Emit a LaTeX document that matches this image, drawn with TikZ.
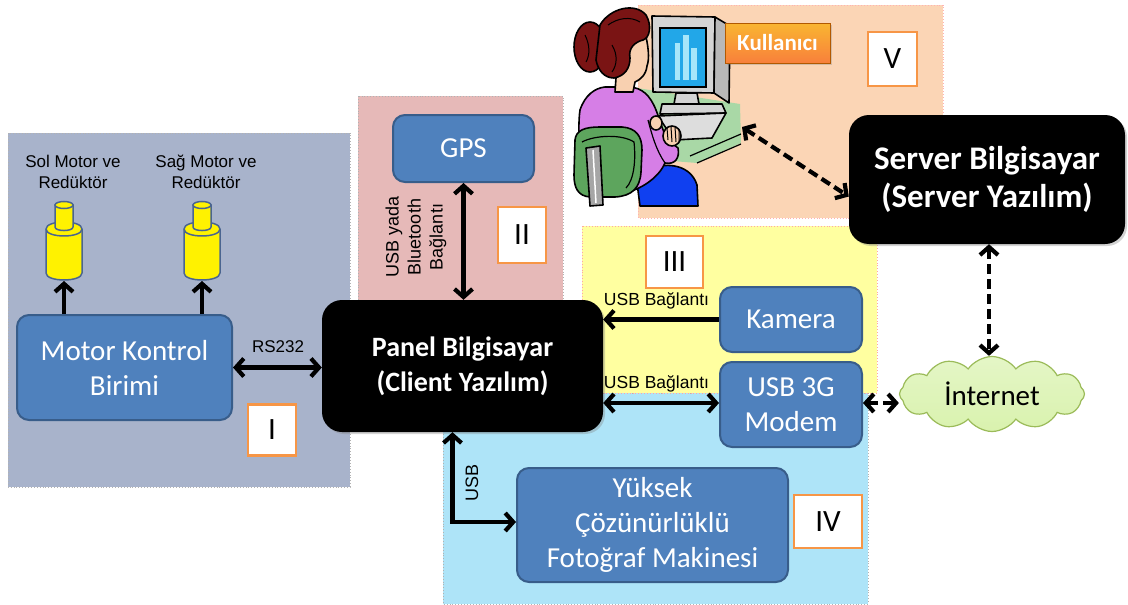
\documentclass[tikz,border=0pt]{standalone}
\usepackage{fontspec}
\setmainfont{Carlito}
\newfontfamily\arialf{Liberation Sans}
\usetikzlibrary{arrows.meta,shapes.symbols,shadows}

\definecolor{boxblue}{HTML}{4F81BD}
\definecolor{boxedge}{HTML}{385D8A}
\definecolor{regI}{HTML}{A8B3CB}
\definecolor{regII}{HTML}{E6B9B8}
\definecolor{regIII}{HTML}{FFFFA0}
\definecolor{regIV}{HTML}{AEE4F8}
\definecolor{regV}{HTML}{FBD5B5}
\definecolor{tagorange}{HTML}{F79646}
\definecolor{cloudfill}{HTML}{D9F2AE}
\definecolor{cloudedge}{HTML}{9BBB59}
\definecolor{hair}{HTML}{7A1414}
\definecolor{skin}{HTML}{F8D0B0}
\definecolor{shirt}{HTML}{D67EE6}
\definecolor{chair}{HTML}{5DA55D}
\definecolor{rail}{HTML}{A6A6A6}
\definecolor{seat}{HTML}{1040F0}
\definecolor{mongray}{HTML}{D4D4D4}
\definecolor{monside}{HTML}{B8B8B8}
\definecolor{screen}{HTML}{22A7E8}
\definecolor{bars}{HTML}{A6E6FA}
\definecolor{desk}{HTML}{A9D8A6}
\definecolor{motoredge}{HTML}{4A6590}

\tikzset{
  >={Straight Barb[length=8pt,width=18pt]},
  region/.style={fill=#1, draw=gray!60, dotted, line width=0.9pt},
  bluebox/.style={draw=boxedge, line width=2pt, fill=boxblue, rounded corners=12pt,
    text=white, align=center, font=\fontsize{29}{35}\selectfont, inner sep=0pt},
  blackbox/.style={fill=black, rounded corners=20pt, text=white, align=center,
    font=\fontsize{28}{35}\selectfont\bfseries, inner sep=0pt,
    drop shadow={shadow xshift=2pt, shadow yshift=-2pt, opacity=0.35}},
  tag/.style={draw=tagorange, line width=2.5pt, fill=white,
    font=\fontsize{31}{31}\selectfont, inner sep=0pt},
  small/.style={font=\arialf\fontsize{17}{21}\selectfont, inner sep=0pt, align=center},
  wire/.style={line width=4.2pt},
  dashwire/.style={line width=4.2pt, dash pattern=on 10pt off 5pt},
  outline/.style={draw=black, line width=1.6pt, line join=round},
  motor/.pic={
    \path[draw=motoredge, line width=1.5pt, fill=yellow]
      (-18,29) -- (-18,73) .. controls (-18,82.3) and (18,82.3) .. (18,73)
      -- (18,29) .. controls (18,19.7) and (-18,19.7) .. (-18,29) -- cycle;
    \draw[motoredge, line width=1.5pt] (-18,29) .. controls (-18,38.3) and (18,38.3) .. (18,29);
    \path[draw=motoredge, line width=1.5pt, fill=yellow]
      (-9,5) -- (-9,27) .. controls (-9,31.7) and (9,31.7) .. (9,27) -- (9,5) -- cycle;
    \draw[motoredge, line width=1.5pt, fill=yellow] (0,5) ellipse [x radius=9, y radius=3.5];
    \coordinate (-base) at (0,81);
  }
}

\begin{document}
\begin{tikzpicture}[x=1pt, y=-1pt]
\useasboundingbox (0,0) rectangle (1128,605);

% shaded areas of the subsystems
\path[region=regI] (8,133) rectangle (350,487);
\path[region=regII] (358,96) rectangle (563,305);
\path[region=regIV] (443,393) rectangle (868,604);
\path[region=regIII, draw=red!35] (582,226) rectangle (877,393);
\path[region=regV, draw=red!30] (638,5) rectangle (943,218);

% user at the workstation
\fill[desk] (637,88) -- (740,104) -- (741,143) -- (697,163) -- (660,160) -- (640,140) -- cycle;
\draw[line width=1.2pt] (690,156) -- (741,134);
\draw[line width=1.2pt] (697,163) -- (741,144);
\path[outline, fill=mongray] (652,16) -- (715,17) -- (714,93) -- (653,92) -- cycle;
\path[outline, fill=monside] (715,17) -- (730,26) -- (729,103) -- (714,93) -- cycle;
\path[draw=black, line width=1.2pt, fill=screen] (660,28) rectangle (706,87);
\fill[bars] (675,43) rectangle (680,80);
\fill[bars] (683,35) rectangle (689,80);
\fill[bars] (691,48) rectangle (697,80);
\path[outline, fill=mongray] (676,93) -- (697,93) -- (699,104) -- (674,104) -- cycle;
\path[outline, fill=mongray] (662,104) -- (722,104) -- (726,113) -- (660,114) -- cycle;
\path[outline, fill=mongray!80] (658,116) -- (726,113) -- (712,138) -- (674,140) -- cycle;
\path[outline, fill=seat] (636,175) .. controls (660,160) and (690,162) .. (697,185)
  -- (698,206) -- (640,206) -- cycle;
\path[outline, fill=shirt] (580,110) .. controls (585,95) and (595,88) .. (605,87)
  -- (630,87) .. controls (642,88) and (650,95) .. (656,110)
  .. controls (660,120) and (662,130) .. (668,140) -- (678,148)
  .. controls (680,158) and (675,165) .. (665,163)
  .. controls (660,175) and (645,188) .. (625,193) -- (590,195)
  .. controls (580,180) and (577,130) .. (580,110) -- cycle;
\draw[line width=1.2pt] (648,120) .. controls (652,135) and (656,150) .. (665,163);
\path[outline, fill=skin] (656,123) ellipse [x radius=6, y radius=7];
\path[outline, fill=skin] (672,136) ellipse [x radius=9, y radius=10];
\draw[line width=1pt] (667,128) -- (668,140) (671,127) -- (672,142) (675,127) -- (676,142) (679,129) -- (679,141);
\path[outline, fill=skin] (618,40) -- (645,32) .. controls (648,45) and (650,58) .. (647,66)
  .. controls (646,75) and (640,80) .. (635,82) -- (633,92) -- (615,92) -- (616,78) -- cycle;
\path[outline, fill=hair] (590,47) ellipse [x radius=16, y radius=25];
\path[outline, fill=hair] (600,25) .. controls (610,8) and (635,2) .. (646,15)
  .. controls (652,25) and (650,38) .. (643,40) .. controls (635,42) and (628,48) .. (630,58)
  .. controls (630,68) and (625,76) .. (614,78) .. controls (604,78) and (598,70) .. (596,60) -- cycle;
\draw[line width=1pt] (608,25) .. controls (618,18) and (630,16) .. (640,22)
  (585,35) .. controls (590,45) and (590,55) .. (586,62)
  (612,45) .. controls (618,55) and (617,65) .. (612,72);
\path[outline, fill=chair] (575,140) .. controls (576,130) and (585,127) .. (600,127) -- (622,127)
  .. controls (636,128) and (642,136) .. (642,150) -- (641,172)
  .. controls (640,188) and (632,196) .. (615,197) -- (590,197)
  .. controls (578,196) and (574,188) .. (574,175) -- cycle;
\draw[line width=1.2pt] (582,142) .. controls (595,135) and (622,134) .. (634,142)
  .. controls (636,160) and (634,180) .. (626,188);
\path[outline, fill=rail] (586,148) -- (600,146) -- (603,205) -- (590,206) -- cycle;
\draw[white, line width=1.5pt] (593,150) -- (596,203);

% motors and their controller
\pic (ml) at (64,200) {motor};
\pic (mr) at (202,200) {motor};
\node[small] (lsol) at (73,172) {Sol Motor ve\\Redüktör};
\node[small] (lsag) at (206,172) {Sağ Motor ve\\Redüktör};
\node[bluebox, minimum width=215pt, minimum height=105pt] (mkb) at (124.5,367.5) {Motor Kontrol\\Birimi};

% main computers and devices
\node[bluebox, minimum width=141pt, minimum height=67pt] (gps) at (463.5,148.5) {GPS};
\node[blackbox, minimum width=281pt, minimum height=132pt] (panel) at (462.5,366) {Panel Bilgisayar\\(Client Yazılım)};
\node[blackbox, font=\fontsize{33}{38}\selectfont\bfseries, minimum width=276pt, minimum height=129pt] (server) at (987,179.5) {Server Bilgisayar\\(Server Yazılım)};
\node[bluebox, minimum width=142pt, minimum height=65pt] (kamera) at (791,319.5) {Kamera};
\node[bluebox, minimum width=142pt, minimum height=85pt] (modem) at (791,404.5) {USB 3G\\Modem};
\node[bluebox, minimum width=271pt, minimum height=114pt] (foto) at (652.5,525) {Yüksek\\Çözünürlüklü\\Fotoğraf Makinesi};
\node[cloud, cloud puffs=12, cloud puff arc=110, cloud ignores aspect, draw=cloudedge, line width=1.2pt,
  top color=cloudfill!70!white, bottom color=cloudfill, minimum width=185pt, minimum height=75pt, inner sep=0pt,
  font=\fontsize{29}{30}\selectfont] (net) at (992,394) {İnternet};
\node[draw=orange!70!black, line width=0.8pt, top color=tagorange!70!yellow, bottom color=tagorange!85!red,
  minimum width=105pt, minimum height=40pt, inner sep=0pt, text=white, font=\fontsize{23}{23}\selectfont\bfseries,
  drop shadow={shadow xshift=2pt, shadow yshift=-2pt, opacity=0.3}] (user) at (777.5,43) {Kullanıcı};

% subsystem numbers
\node[tag, minimum width=48pt, minimum height=51pt] (tI) at (272,430) {I};
\node[tag, minimum width=48pt, minimum height=56pt] (tII) at (522,235) {II};
\node[tag, minimum width=57pt, minimum height=52pt] (tIII) at (674.5,262) {III};
\node[tag, minimum width=68pt, minimum height=53pt] (tIV) at (828,521.5) {IV};
\node[tag, minimum width=49pt, minimum height=54pt] (tV) at (892.5,59) {V};

% connection labels
\node[small, anchor=base] (lrs) at (278,352) {RS232};
\node[small, anchor=base, font=\arialf\fontsize{17.5}{21}\selectfont] (lkam) at (656.5,305) {USB Bağlantı};
\node[small, anchor=base, font=\arialf\fontsize{17.5}{21}\selectfont] (lmod) at (656.5,388) {USB Bağlantı};
\node[small, rotate=90, font=\arialf\fontsize{18}{22}\selectfont] (lgps) at (416,237) {USB yada\\Bluetooth\\Bağlantı};
\node[small, rotate=90, font=\arialf\fontsize{18}{22}\selectfont] (lusb) at (472,483) {USB};

% connectors
\draw[wire,->] (mkb.north -| ml-base) -- (ml-base);
\draw[wire,->] (mkb.north -| mr-base) -- (mr-base);
\draw[wire,<->] (mkb.east) -- (mkb.east -| panel.west);
\draw[wire,<->] (gps.south) -- (gps.south |- panel.north);
\draw[wire,->] (kamera.west) -- (kamera.west -| panel.east);
\draw[wire,<->] ([yshift=1.5pt]modem.west) -- ([yshift=1.5pt]modem.west -| panel.east);
\draw[wire,<->] ([xshift=-10pt]panel.south) |- ([yshift=3pt]foto.west);
\draw[dashwire,<->] ([yshift=1.5pt]modem.east) -- ([yshift=1.5pt]modem.east -| net.west);
\draw[dashwire,<->] ([xshift=2pt]server.south) -- ([xshift=2pt]server.south |- net.north);
\coordinate (deskend) at (742,127);
\draw[dashwire,<->] (deskend) -- ([yshift=-17pt]server.west);
\end{tikzpicture}
\end{document}
